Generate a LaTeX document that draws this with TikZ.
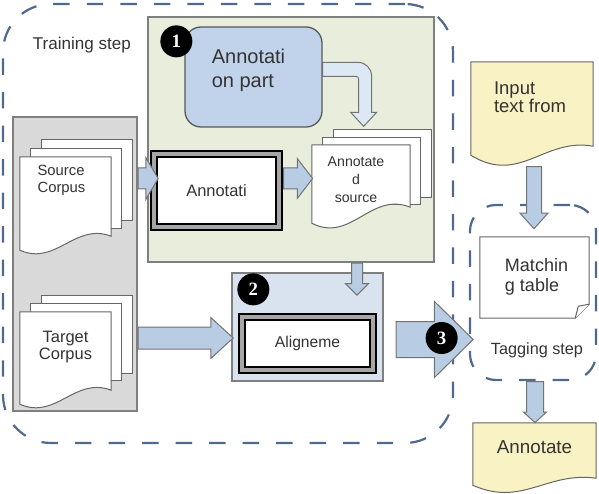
\documentclass[tikz,border=0pt]{standalone}
\usepackage{fontspec}
\setmainfont{Liberation Sans}
\newfontfamily\digitfont{Liberation Serif}
\usepackage{tikz}
\usetikzlibrary{shapes.arrows,calc,positioning}
\definecolor{dashblue}{HTML}{4F6A8C}
\definecolor{panelgreen}{HTML}{E8EEDB}
\definecolor{partblue}{HTML}{C0D3EB}
\definecolor{arrowfill}{HTML}{B8CCE4}
\definecolor{arrowpale}{HTML}{DCE8F4}
\definecolor{panelgray}{HTML}{D9D9D9}
\definecolor{alignblue}{HTML}{D9E3F0}
\definecolor{docyellow}{HTML}{F8F2C4}
\definecolor{edgegray}{HTML}{7F7F7F}
\definecolor{textdark}{HTML}{333333}
\newcommand{\pxu}{0.85pt}
\newcommand{\setfs}[2]{\fontsize{#1}{#2}\selectfont}
% page with a wavy lower edge, drawn round an empty node
\newcommand{\docoutline}[4]{%
  \path[#2] (#1.south west) -- (#1.north west) -- (#1.north east) -- ($(#1.south east)+(0,-#4)$)
    .. controls ($(#1.south west)!0.6!(#1.south east)+(0,-2*#4)$) and ($(#1.south west)!0.4!(#1.south east)+(0,#3)$) .. (#1.south west) -- cycle;}
% page with a folded lower right corner
\newcommand{\foldoutline}[3]{%
  \path[#2] (#1.north west) -- (#1.north east) -- ($(#1.south east)+(0,-#3)$) -- ($(#1.south east)+(-#3,0)$) -- (#1.south west) -- cycle;
  \path[#2] ($(#1.south east)+(-#3,0)$) -- ($(#1.south east)+(-#3+3,-#3+2)$) -- ($(#1.south east)+(0,-#3)$);}
\tikzset{
  trainbox/.style={draw=dashblue,line width=2.2*\pxu,dash pattern=on 14pt off 14.5pt,rounded corners=48*\pxu,inner sep=0pt},
  tagbox/.style={trainbox,rounded corners=26*\pxu},
  panel/.style={draw=edgegray,line width=1.3*\pxu,inner sep=0pt},
  partbox/.style={draw=black!65,fill=partblue,line width=1.3*\pxu,rounded corners=16*\pxu,inner sep=0pt},
  framebox/.style={draw=black,fill=white,line width=2.2*\pxu,double=gray!70,double distance=4*\pxu,inner sep=0pt,text=textdark},
  page/.style={draw=black!60,fill=white,line width=1*\pxu,inner sep=0pt},
  docnode/.style={inner sep=0pt},
  docline/.style={draw=black!60,fill=white,line width=1*\pxu},
  yellowline/.style={docline,fill=docyellow},
  boxtext/.style={text=textdark,inner sep=0pt},
  steptext/.style={boxtext,font=\setfs{14.5}{17}},
  stepnum/.style={circle,fill=black,text=white,minimum size=32*\pxu,inner sep=0pt,font=\digitfont\bfseries\setfs{16}{16}},
  blockarrow/.style n args={4}{single arrow,draw=black!55,fill=arrowfill,line width=1*\pxu,inner xsep=0pt,
    inner ysep=#2*0.5*\pxu,single arrow head extend=(#3-#2)*0.5*\pxu,single arrow tip angle=#4,
    minimum height=#1*\pxu,minimum width=0pt,anchor=tail},
  bentarrow/.style={draw=black!55,fill=arrowpale,line width=1*\pxu},
}
\begin{document}
\begin{tikzpicture}[x=\pxu,y=-\pxu]
  \useasboundingbox (0,0) rectangle (599,494);
  % dashed steps
  \node[trainbox,minimum width=450*\pxu,minimum height=439*\pxu] (train) at (228,223.5) {};
  \node[steptext] (traintext) at ($(train.north west)+(80,42)$) {Training step};
  \node[tagbox,minimum width=126*\pxu,minimum height=175*\pxu] (tag) at (533,292.5) {};
  \node[steptext,font=\setfs{13.8}{16}] (tagtext) at ($(tag.south)+(4,-31)$) {Tagging step};
  % panels
  \node[panel,fill=panelgreen,minimum width=286*\pxu,minimum height=245*\pxu] (annpanel) at (291,139.5) {};
  \node[panel,fill=panelgray,minimum width=124*\pxu,minimum height=294*\pxu] (corpora) at (75,264) {};
  \node[panel,fill=alignblue,minimum width=151*\pxu,minimum height=108*\pxu] (alignpanel) at (307.5,327) {};
  \node[partbox,minimum width=137*\pxu,minimum height=100*\pxu] (part) at (253.5,77) {};
  \node[boxtext,align=left,font=\setfs{17}{20.4}] (parttext) at ($(part.center)+(-5,-7)$) {Annotati\\on part};
  % corpora
  \node[docnode,minimum width=91*\pxu,minimum height=93*\pxu] (srcdoc) at (65.5,203.5) {};
  \foreach \k/\h in {2/81,1/80}
    \node[page,anchor=north west,minimum width=91*\pxu,minimum height=\h*\pxu] (srcpage\k) at ($(srcdoc.north west)+(\k*10.5,-\k*9)$) {};
  \docoutline{srcdoc}{docline}{16}{14}
  \node[boxtext,align=left,font=\setfs{12.6}{14.5}] (srctext) at ($(srcdoc.north)+(-4,24)$) {Source\\Corpus};
  \node[docnode,minimum width=91*\pxu,minimum height=92*\pxu] (tgtdoc) at (65.5,358) {};
  \foreach \k/\h in {2/78,1/77}
    \node[page,anchor=north west,minimum width=91*\pxu,minimum height=\h*\pxu] (tgtpage\k) at ($(tgtdoc.north west)+(\k*10.5,-\k*8.5)$) {};
  \docoutline{tgtdoc}{docline}{16}{14}
  \node[boxtext,align=center,font=\setfs{14}{14.5}] (tgttext) at ($(tgtdoc.north)+(0,35)$) {Target\\Corpus};
  % annotated source
  \node[docnode,minimum width=98*\pxu,minimum height=78*\pxu] (asrcdoc) at (361,184) {};
  \foreach \k/\h in {2/68,1/67}
    \node[page,anchor=north west,minimum width=98*\pxu,minimum height=\h*\pxu] (asrcpage\k) at ($(asrcdoc.north west)+(\k*10.5,-\k*8)$) {};
  \docoutline{asrcdoc}{docline}{20}{16}
  \node[boxtext,align=center,font=\setfs{12}{15.3}] (asrctext) at ($(asrcdoc.north)+(-5,35)$) {Annotate\\d\\source};
  % input, table, output
  \node[docnode,minimum width=122*\pxu,minimum height=93*\pxu] (input) at (532,108.5) {};
  \docoutline{input}{yellowline}{30}{9}
  \node[boxtext,align=left,font=\setfs{15.7}{15.3}] (inputtext) at ($(input.north)+(-2,35)$) {Input\\text from};
  \node[docnode,minimum width=109*\pxu,minimum height=81*\pxu] (match) at (534.5,277.5) {};
  \foldoutline{match}{docline}{14}
  \node[boxtext,align=left,font=\setfs{15.3}{17}] (matchtext) at ($(match.center)+(2,-1)$) {Matchin\\g table};
  \node[docnode,minimum width=123*\pxu,minimum height=62*\pxu] (output) at (534.5,454) {};
  \docoutline{output}{yellowline}{22}{7}
  \node[boxtext,font=\setfs{16}{18}] (outputtext) at ($(output.north)+(0,24)$) {Annotate};
  % framed tools
  \node[framebox,minimum width=125*\pxu,minimum height=73*\pxu,font=\setfs{14}{16}] (annot) at (216.5,190.5) {Annotati};
  \node[framebox,minimum width=131*\pxu,minimum height=53*\pxu,font=\setfs{13.3}{15}] (align) at (307.5,343.5) {Aligneme};
  % arrows
  \node[blockarrow={20}{20}{41}{119}] (a1) at ($(corpora.east |- annot.center)+(0,-12)$) {};
  \node[blockarrow={29}{20}{39}{105}] (a2) at ($(annot.east)+(3,-12)$) {};
  \node[blockarrow={32}{10}{22}{90},rotate=-90] (a3) at ($(annpanel.south)+(66,0)$) {};
  \node[blockarrow={95}{21}{40}{85}] (a4) at ($(corpora.east |- align.center)+(0,-5.5)$) {};
  \node[blockarrow={77}{35}{75}{89}] (a5) at ($(alignpanel.east |- align.center)+(12,-4)$) {};
  \node[blockarrow={62}{14}{27}{84},rotate=-90] (a6) at ($(input.south)+(2,11)$) {};
  \node[blockarrow={41}{16}{22}{95},rotate=-90] (a7) at ($(tag.south)+(2,0)$) {};
  \coordinate (bendstart) at ($(part.north east)+(0,36)$);
  \draw[bentarrow] (bendstart) -- ++(35,0) .. controls +(8,0) and +(0,-8) .. ++(14,14) -- ++(0,36) -- ++(5,0)
    -- ++(-13,14) -- ++(-13,-14) -- ++(8,0) -- ++(0,-33) .. controls +(0,-2) and +(2,0) .. ++(-3,-3) -- ++(-33,0) -- cycle;
  % step numbers
  \node[stepnum] (num1) at ($(annpanel.north west)+(29,25)$) {1};
  \node[stepnum] (num2) at ($(alignpanel.north west)+(22,17)$) {2};
  \node[stepnum] (num3) at ($(a5.tail)+(46,-1.5)$) {3};
\end{tikzpicture}
\end{document}
